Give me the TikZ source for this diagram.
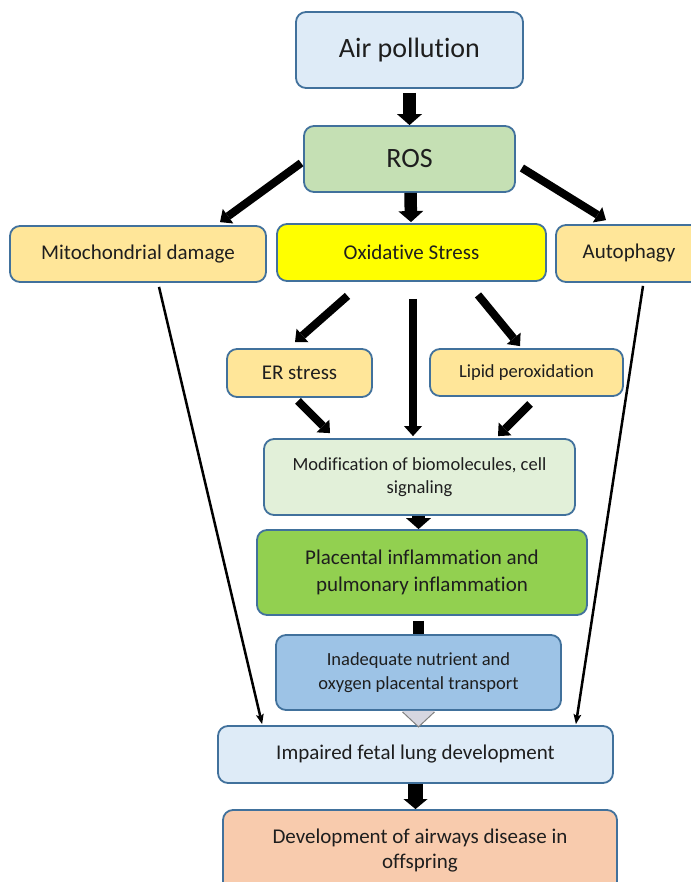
\documentclass[tikz,border=0pt]{standalone}
\usepackage{fontspec}
\setmainfont{Carlito}[Ligatures=NoCommon]
\usetikzlibrary{arrows.meta,calc}
\definecolor{bord}{HTML}{41719C}
\definecolor{txt}{HTML}{1E1E1E}
\definecolor{cair}{HTML}{DEEBF7}
\definecolor{cros}{HTML}{C5E0B4}
\definecolor{cyel}{HTML}{FFE699}
\definecolor{cox}{HTML}{FFFF00}
\definecolor{cmod}{HTML}{E2F0D9}
\definecolor{cplac}{HTML}{92D050}
\definecolor{cinad}{HTML}{9DC3E6}
\definecolor{cdev}{HTML}{F8CBAD}
\definecolor{ctri}{HTML}{D6D6E0}
\definecolor{ctrib}{HTML}{7F7F7F}
\begin{document}
\begin{tikzpicture}[x=1pt,y=-1pt,
  box/.style={draw=bord, line width=1.8pt, rounded corners=10pt, inner sep=0pt, align=center, text=txt},
  big/.style={font=\fontsize{28}{34}\selectfont},
  mid/.style={font=\fontsize{21}{26.5}\selectfont},
  sml/.style={font=\fontsize{18.5}{23.5}\selectfont},
  heavy/.style={line width=12.5pt, -{Triangle[width=25pt,length=11pt,line width=0pt]}},
  medarr/.style={line width=8pt, -{Triangle[width=18pt,length=10pt,line width=0pt]}},
  thinarr/.style={line width=2.5pt, -{Stealth[width=8pt,length=10pt,inset=2pt,line width=0pt]}},
]
\useasboundingbox (0,0) rectangle (690,882);
% boxes
\node[box, big, fill=cair, minimum width=227pt, minimum height=76pt] (air) at (409.5,50) {Air pollution};
\node[box, big, fill=cros, minimum width=211pt, minimum height=66pt] (ros) at (409.5,159) {ROS};
\node[box, mid, fill=cyel, minimum width=256pt, minimum height=56pt] (mito) at (138,254) {Mitochondrial damage};
\node[box, mid, fill=cox, minimum width=269pt, minimum height=57pt] (ox) at (411.5,252.5) {Oxidative Stress};
\node[box, mid, fill=cyel, minimum width=146pt, minimum height=57pt] (auto) at (629,253.5) {Autophagy};
\node[box, mid, fill=cyel, minimum width=145pt, minimum height=48pt] (er) at (299.5,373) {ER stress};
\node[box, sml, fill=cyel, minimum width=193pt, minimum height=47pt] (lipid) at (526.5,372.5) {Lipid peroxidation};
\node[box, sml, fill=cmod, minimum width=311pt, minimum height=76pt, font=\fontsize{18.5}{23}\selectfont] (mod) at (419.5,477) {Modification of biomolecules, cell\\signaling};
\node[box, fill=cplac, minimum width=330pt, minimum height=85pt, font=\fontsize{21}{27}\selectfont] (plac) at (422,572.5) {Placental inflammation and\\pulmonary inflammation};
\node[box, fill=cinad, minimum width=285pt, minimum height=75pt, font=\fontsize{18.5}{24}\selectfont] (inad) at (418.5,672.5) {Inadequate nutrient and\\oxygen placental transport};
\node[box, mid, fill=cair, minimum width=395pt, minimum height=57pt] (imp) at (415.5,754.5) {Impaired fetal lung development};
\node[box, fill=cdev, minimum width=394pt, minimum height=82pt, font=\fontsize{21}{25}\selectfont] (dev) at (420,851) {Development of airways disease in\\offspring};
% thick arrows
\draw[heavy, shorten <=4pt] (air.south) -- (ros.north);
\draw[heavy] ($(ros.south)+(1,0)$) -- ($(ox.north)+(-0.5,-1)$);
\draw[medarr] ($(ros.west)+(-2,4)$) -- ($(mito.north)+(82,-3)$);
\draw[medarr] ($(ros.east)+(6,9)$) -- ($(auto.north)+(-23,-4)$);
\draw[medarr] ($(ox.south)+(-64,14)$) -- ($(er.north)+(-4.5,-6)$);
\draw[medarr] ($(ox.south)+(1.5,17)$) -- ($(mod.north)+(-6.5,-2)$);
\draw[medarr] ($(ox.south)+(66.5,13)$) -- ($(lipid.north)+(-6.5,-2)$);
\draw[medarr] ($(er.south)+(-1.5,3)$) -- ($(mod.north)+(-89.5,-5)$);
\draw[medarr] ($(lipid.south)+(3.5,7)$) -- ($(mod.north)+(78.5,-2)$);
\draw[heavy] ($(mod.south)+(-1,0)$) -- ($(plac.north)+(-3.5,0)$);
\draw[line width=11pt] ($(plac.south)+(-3.5,5)$) -- (inad.north);
\fill[ctri] ($(inad.south)+(-16,0)$) -- ($(inad.south)+(16,0)$) -- ($(inad.south)+(0,16)$) -- cycle;
\draw[ctrib, line width=1pt] ($(inad.south)+(-16,1)$) -- ($(inad.south)+(0,16)$) -- ($(inad.south)+(16,1)$);
\draw[line width=15pt, -{Triangle[width=24pt,length=10pt,line width=0pt]}] (imp.south) -- ($(dev.north)+(-4.5,0)$);
% thin arrows
\draw[thinarr] ($(mito.south)+(21,4)$) -- ($(imp.north west)+(45,-1)$);
\draw[thinarr] ($(auto.south)+(14,3)$) -- ($(imp.north east)+(-38,-1)$);
\end{tikzpicture}
\end{document}
